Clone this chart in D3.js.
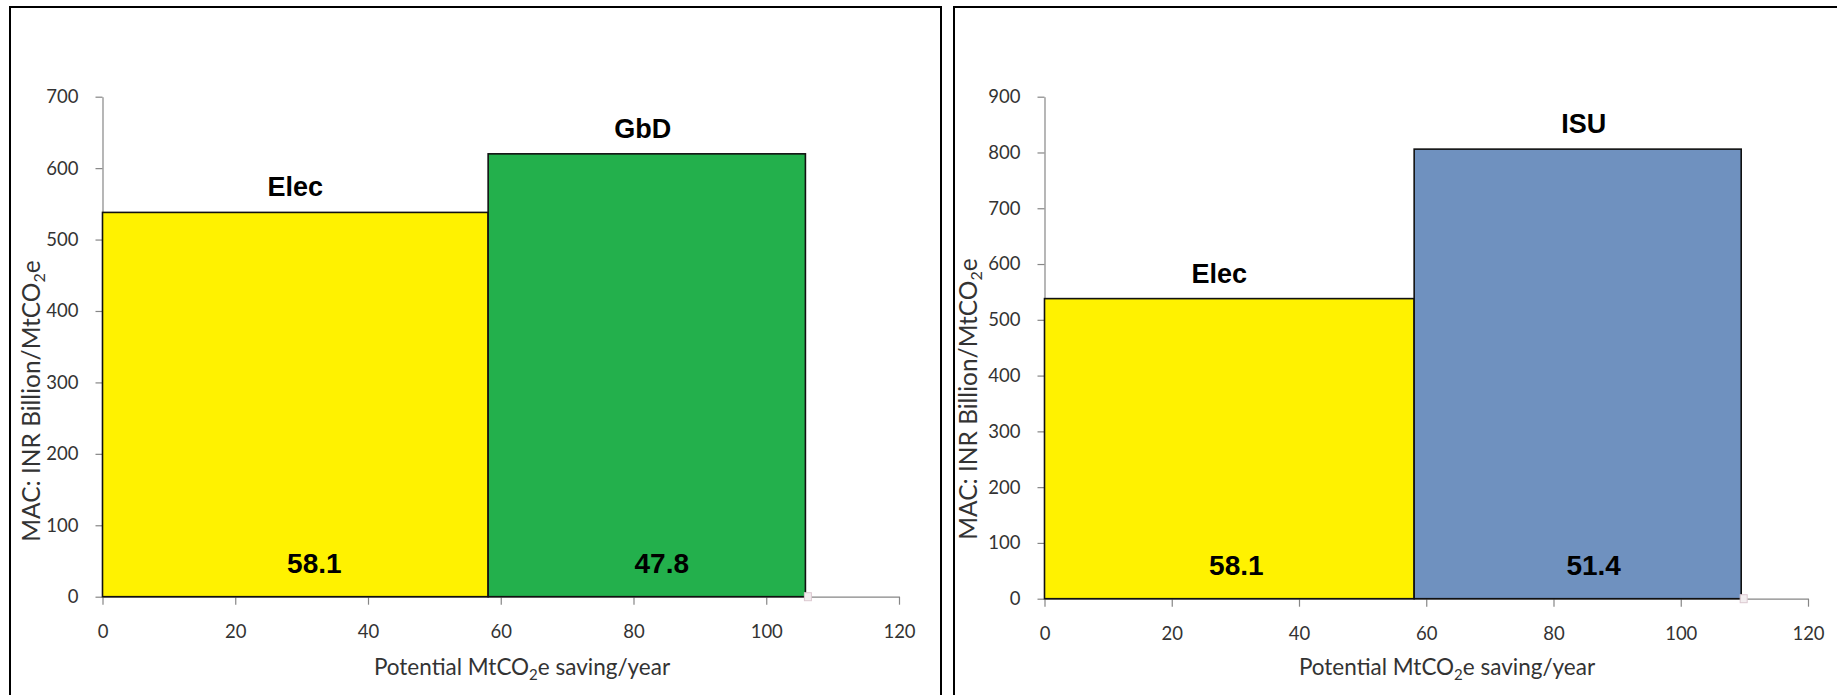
<!DOCTYPE html>
<html>
<head>
<meta charset="utf-8">
<script src="https://cdn.jsdelivr.net/npm/d3@7"></script>
<style>
  html, body { margin: 0; padding: 0; background: #ffffff; }
  svg { display: block; }
</style>
</head>
<body>
<svg id="chart" width="1837" height="695"></svg>
<script>
// Marginal abatement cost curves: width = potential saving, height = cost
const categoriesA = ["Elec", "GbD"];
const savingsA = [58.1, 47.8];
const macA = [538, 620];

const categoriesB = ["Elec", "ISU"];
const savingsB = [58.1, 51.4];
const macB = [538, 806];

const xTickValues = [0, 20, 40, 60, 80, 100, 120];
const yTickValuesA = [0, 100, 200, 300, 400, 500, 600, 700];
const yTickValuesB = [0, 100, 200, 300, 400, 500, 600, 700, 800, 900];

const optionColors = { "Elec": "#fff200", "GbD": "#23b04c", "ISU": "#6f91bf" };

// Layout of the two panels
const panels = [
  {
    cats: categoriesA, widths: savingsA, heights: macA, yTicks: yTickValuesA,
    frame: { x: 10, y: 7, w: 931, h: 760 },
    plot: { left: 102.5, right: 899, top: 96.7, bottom: 596.7 },
    yTitle: { x: 40, y: 401 }, xTitle: { x: 522, y: 675 },
    valueNudge: [19, 15], catNudge: [0, -4]
  },
  {
    cats: categoriesB, widths: savingsB, heights: macB, yTicks: yTickValuesB,
    frame: { x: 954, y: 7, w: 1000, h: 760 },
    plot: { left: 1044.5, right: 1808, top: 96.7, bottom: 598.7 },
    yTitle: { x: 977, y: 399 }, xTitle: { x: 1447, y: 675 },
    valueNudge: [7, 16], catNudge: [-10, 6]
  }
];

const svg = d3.select("#chart");
const tickFont = "Lato, 'Open Sans', sans-serif";
const labelFont = "'Liberation Sans', Arial, sans-serif";

panels.forEach(p => {
  const g = svg.append("g");

  // panel frame
  g.append("rect")
    .attr("x", p.frame.x).attr("y", p.frame.y)
    .attr("width", p.frame.w).attr("height", p.frame.h)
    .attr("fill", "#ffffff").attr("stroke", "#000000").attr("stroke-width", 2);

  const x = d3.scaleLinear().domain([0, 120]).range([p.plot.left, p.plot.right]);
  const y = d3.scaleLinear().domain([0, d3.max(p.yTicks)]).range([p.plot.bottom, p.plot.top]);

  // axes
  const yAxis = d3.axisLeft(y).tickValues(p.yTicks).tickSize(7).tickSizeOuter(0).tickPadding(17);
  const xAxis = d3.axisBottom(x).tickValues(xTickValues).tickSize(8).tickSizeOuter(0).tickPadding(20);

  const gy = g.append("g").attr("transform", `translate(${p.plot.left},0)`).call(yAxis);
  const gx = g.append("g").attr("transform", `translate(0,${p.plot.bottom})`).call(xAxis);
  [gx, gy].forEach(ax => {
    ax.select(".domain").attr("stroke", "#868686").attr("stroke-width", 1.2);
    ax.selectAll(".tick line").attr("stroke", "#868686").attr("stroke-width", 1.2);
    ax.selectAll(".tick text")
      .attr("fill", "#333333")
      .style("font-family", tickFont)
      .style("font-size", "18.5px");
  });

  // step bars laid end to end along the saving axis
  const starts = p.widths.map((w, i) => d3.sum(p.widths.slice(0, i)));
  const bars = p.cats.map((c, i) => ({
    cat: c, x0: starts[i], x1: starts[i] + p.widths[i], h: p.heights[i], w: p.widths[i], i
  }));

  g.selectAll("rect.bar").data(bars).enter().append("rect")
    .attr("class", "bar")
    .attr("x", d => x(d.x0))
    .attr("y", d => y(d.h))
    .attr("width", d => x(d.x1) - x(d.x0))
    .attr("height", d => y(0) - y(d.h))
    .attr("fill", d => optionColors[d.cat])
    .attr("stroke", "#111111")
    .attr("stroke-width", 1.6);

  // end-of-curve marker on the axis
  const last = bars[bars.length - 1];
  g.append("rect")
    .attr("x", x(last.x1) - 1).attr("y", y(0) - 4)
    .attr("width", 7).attr("height", 8)
    .attr("fill", "#f3eef0").attr("stroke", "#dcc8d0").attr("stroke-width", 1);

  // option names above each bar
  g.selectAll("text.cat").data(bars).enter().append("text")
    .attr("class", "cat")
    .attr("x", d => (x(d.x0) + x(d.x1)) / 2 + p.catNudge[d.i])
    .attr("y", d => y(d.h) - 16)
    .attr("text-anchor", "middle")
    .style("font-family", labelFont)
    .style("font-weight", "bold")
    .style("font-size", "27px")
    .attr("fill", "#000000")
    .text(d => d.cat);

  // saving values inside each bar
  g.selectAll("text.val").data(bars).enter().append("text")
    .attr("class", "val")
    .attr("x", d => (x(d.x0) + x(d.x1)) / 2 + p.valueNudge[d.i])
    .attr("y", y(0) - 24)
    .attr("text-anchor", "middle")
    .style("font-family", labelFont)
    .style("font-weight", "bold")
    .style("font-size", "28px")
    .attr("fill", "#000000")
    .text(d => d.w.toFixed(1));

  // axis titles
  const xt = g.append("text")
    .attr("x", p.xTitle.x).attr("y", p.xTitle.y)
    .attr("text-anchor", "middle")
    .style("font-family", tickFont).style("font-size", "22.5px")
    .attr("fill", "#333333");
  xt.append("tspan").text("Potential MtCO");
  xt.append("tspan").attr("dy", 5).style("font-size", "15px").text("2");
  xt.append("tspan").attr("dy", -5).text("e saving/year");

  const yt = g.append("text")
    .attr("transform", `translate(${p.yTitle.x},${p.yTitle.y}) rotate(-90)`)
    .attr("text-anchor", "middle")
    .style("font-family", tickFont).style("font-size", "24.5px")
    .attr("fill", "#333333");
  yt.append("tspan").text("MAC: INR Billion/MtCO");
  yt.append("tspan").attr("dy", 5).style("font-size", "16px").text("2");
  yt.append("tspan").attr("dy", -5).text("e");
});
</script>
</body>
</html>
